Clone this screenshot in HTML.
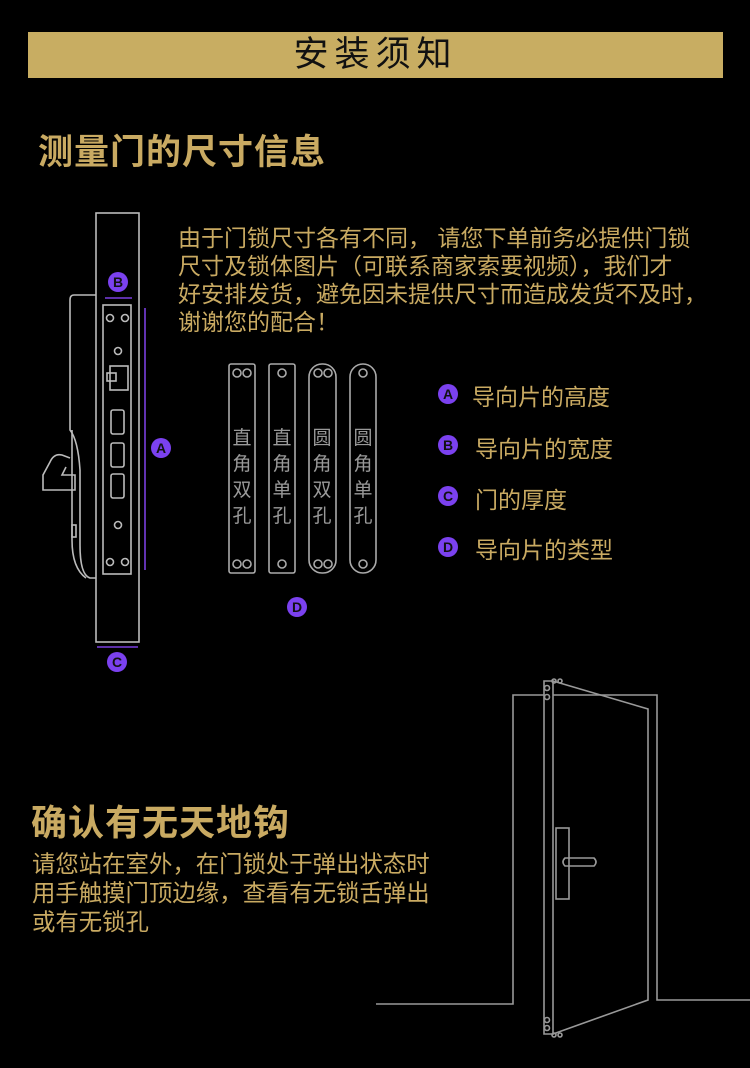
<!DOCTYPE html>
<html><head><meta charset="utf-8"><style>
html,body{margin:0;padding:0;background:#000;}
body{width:750px;height:1068px;position:relative;overflow:hidden;font-family:"Liberation Sans","Noto Sans CJK SC",sans-serif;color:#c9aa62;}
.a{position:absolute;white-space:nowrap;}
.bar{position:absolute;left:28px;top:32px;width:695px;height:46px;background:#c8ad62;}
.bar span{position:absolute;left:0;right:0;top:0;text-align:center;line-height:46px;font-size:35px;color:#111;letter-spacing:6px;}
.p{font-size:23px;line-height:28px;}
.leg{font-size:23px;}
</style></head><body>
<div class="bar"><span>安装须知</span></div>
<div class="a" style="left:38px;top:124px;font-size:35px;letter-spacing:1px;font-weight:bold;">测量门的尺寸信息</div>
<div class="a p" style="left:178px;top:224px;">由于门锁尺寸各有不同， 请您下单前务必提供门锁<br>尺寸及锁体图片（可联系商家索要视频），我们才<br>好安排发货，避免因未提供尺寸而造成发货不及时，<br>谢谢您的配合！</div>
<div class="a leg" style="left:472px;top:378px;">导向片的高度</div>
<div class="a leg" style="left:475px;top:430px;">导向片的宽度</div>
<div class="a leg" style="left:475px;top:481px;">门的厚度</div>
<div class="a leg" style="left:475px;top:531px;">导向片的类型</div>
<div class="a" style="left:31px;top:794px;font-size:36px;font-weight:bold;letter-spacing:1px;">确认有无天地钩</div>
<div class="a" style="left:32px;top:850px;font-size:23.4px;line-height:29px;">请您站在室外，在门锁处于弹出状态时<br>用手触摸门顶边缘，查看有无锁舌弹出<br>或有无锁孔</div>
<svg class="a" style="left:0;top:0" width="750" height="1068" viewBox="0 0 750 1068">
<g fill="none" stroke="#bbb" stroke-width="1.6">
<rect x="96" y="213" width="43" height="429"/>
<rect x="103" y="305" width="28" height="269"/>
<path d="M96 295 H74 Q70 295 70 300 V430 Q78 440 80 470 V545 Q80 575 90 578 H96"/>
<path d="M72 430 V540 Q72 568 86 578"/>
<path d="M70 458 L62 455 Q54 453 50 462 L43 475 V490 H75 V475 H62 L66 467"/>
<rect x="72" y="525" width="4" height="12"/>
<circle cx="110" cy="318" r="3.5"/><circle cx="125" cy="318" r="3.5"/>
<circle cx="118" cy="351" r="3.5"/>
<circle cx="118" cy="525" r="3.5"/>
<circle cx="110" cy="562" r="3.5"/><circle cx="125" cy="562" r="3.5"/>
<rect x="110" y="366" width="18" height="24"/><rect x="107" y="373" width="9" height="8"/>
<rect x="111" y="410" width="13" height="24" rx="2"/>
<rect x="111" y="443" width="13" height="24" rx="2"/>
<rect x="111" y="474" width="13" height="24" rx="2"/>
</g>
<g fill="none" stroke="#aaa" stroke-width="1.6">
<rect x="229" y="364" width="26" height="209" rx="2"/>
<rect x="269" y="364" width="26" height="209" rx="2"/>
<rect x="309" y="364" width="27" height="209" rx="13"/>
<rect x="350" y="364" width="26" height="209" rx="13"/>
<circle cx="237" cy="373" r="4"/><circle cx="247" cy="373" r="4"/>
<circle cx="237" cy="564" r="4"/><circle cx="247" cy="564" r="4"/>
<circle cx="282" cy="373" r="4"/><circle cx="282" cy="564" r="4"/>
<circle cx="318" cy="373" r="4"/><circle cx="328" cy="373" r="4"/>
<circle cx="318" cy="564" r="4"/><circle cx="328" cy="564" r="4"/>
<circle cx="363" cy="373" r="4"/><circle cx="363" cy="564" r="4"/>
</g>
<g font-size="19" fill="#999" text-anchor="middle" font-family="Liberation Sans,Noto Sans CJK SC,sans-serif">
<text x="242" y="444">直</text><text x="242" y="470">角</text><text x="242" y="496">双</text><text x="242" y="522">孔</text>
<text x="282" y="444">直</text><text x="282" y="470">角</text><text x="282" y="496">单</text><text x="282" y="522">孔</text>
<text x="322" y="444">圆</text><text x="322" y="470">角</text><text x="322" y="496">双</text><text x="322" y="522">孔</text>
<text x="363" y="444">圆</text><text x="363" y="470">角</text><text x="363" y="496">单</text><text x="363" y="522">孔</text>
</g>
<g stroke="#7a3fe0" stroke-width="1.6" fill="#7a3fe0">
<line x1="145" y1="308" x2="145" y2="570"/>
<line x1="105" y1="298" x2="132" y2="298"/>
<line x1="97" y1="647" x2="138" y2="647"/>
</g>
<g fill="#7b41ef">
<circle cx="118" cy="282" r="10"/><circle cx="161" cy="448" r="10"/><circle cx="117" cy="662" r="10"/><circle cx="297" cy="607" r="10"/>
<circle cx="448" cy="394" r="10"/><circle cx="448" cy="445" r="10"/><circle cx="448" cy="496" r="10"/><circle cx="448" cy="547" r="10"/>
</g>
<g fill="#111" font-family="Liberation Sans,sans-serif" font-weight="bold" font-size="14" text-anchor="middle">
<text x="118" y="287">B</text><text x="161" y="453">A</text><text x="117" y="667">C</text><text x="297" y="612">D</text>
<text x="448" y="399">A</text><text x="448" y="450">B</text><text x="448" y="501">C</text><text x="448" y="552">D</text>
</g>
<g fill="none" stroke="#999" stroke-width="1.6">
<path d="M376 1004 H513 V695 H544 M553 695 H657 V1000 H750"/>
<path d="M544 681 H553 V1034 H544 Z"/>
<path d="M553 681 L648 709 V1000 L553 1034"/>
<rect x="556" y="828" width="13" height="71"/>
<path d="M565 858 H594 Q598 862 594 866 H565 Q561 862 565 858 Z"/>
<circle cx="547" cy="688" r="2.5"/><circle cx="547" cy="697" r="2.5"/>
<circle cx="547" cy="1020" r="2.5"/><circle cx="547" cy="1028" r="2.5"/>
<circle cx="554" cy="681" r="2"/><circle cx="560" cy="681" r="2"/>
<circle cx="554" cy="1035" r="2"/><circle cx="560" cy="1035" r="2"/>
</g>
</svg>
</body></html>
